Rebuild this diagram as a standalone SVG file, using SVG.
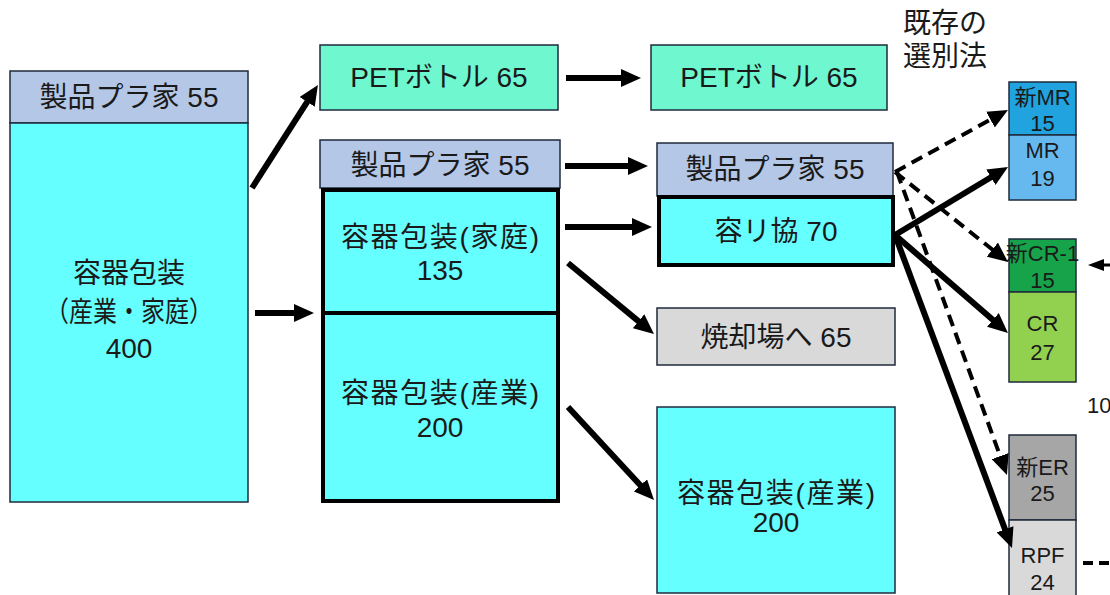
<svg xmlns="http://www.w3.org/2000/svg" width="1110" height="595" viewBox="0 0 1110 595">
<defs>
<style>
text{font-family:"Liberation Sans","Noto Sans CJK JP",sans-serif;fill:#1a1a1a;text-anchor:middle}
.t{font-size:28px}
.s{font-size:22px}
.box{stroke:#1f2a3c;stroke-width:1.5}
.thick{fill:none;stroke:#000;stroke-width:4}
.hdr{fill:#b4c7e7}
.aq{fill:#66ffff}
.pet{fill:#6ff7cf}
.sol{stroke:#000;stroke-width:6;fill:none;marker-end:url(#ah)}
.dsh{stroke:#000;stroke-width:4;fill:none;stroke-dasharray:12 7;marker-end:url(#ah)}
</style>
<marker id="ah" viewBox="0 0 20 18" markerUnits="userSpaceOnUse" markerWidth="20" markerHeight="18" refX="6" refY="9" orient="auto"><path d="M0,0 L20,9 L0,18 z" fill="#000"/></marker>
<marker id="ahs" viewBox="0 0 16 12" markerUnits="userSpaceOnUse" markerWidth="16" markerHeight="12" refX="5" refY="6" orient="auto"><path d="M0,0 L16,6 L0,12 z" fill="#000"/></marker>
</defs>
<rect width="1110" height="595" fill="#fff"/>

<g id="left-header"><rect class="box hdr" x="10" y="71" width="238" height="52"/><text class="t" x="129" y="107">製品プラ家 55</text></g>
<g id="left-main"><rect class="box aq" x="10" y="123" width="238" height="379"/>
<text class="t" x="129" y="283">容器包装</text>
<text class="t" x="129" y="322" textLength="168" lengthAdjust="spacingAndGlyphs">（産業・家庭）</text>
<text class="t" x="129" y="358">400</text></g>

<g id="pet1"><rect class="box pet" x="320" y="45" width="238" height="65"/><text class="t" x="439" y="87">PETボトル 65</text></g>
<g id="mid-header"><rect class="box hdr" x="320" y="140" width="240" height="48"/><text class="t" x="440" y="175">製品プラ家 55</text></g>
<g id="mid-katei"><rect class="aq" x="323" y="190" width="235" height="123"/><text class="t" x="440" y="247" textLength="198" lengthAdjust="spacing">容器包装(家庭)</text><text class="t" x="440" y="280">135</text></g>
<g id="mid-sangyo"><rect class="aq" x="323" y="313" width="235" height="188"/><text class="t" x="440" y="403" textLength="198" lengthAdjust="spacing">容器包装(産業)</text><text class="t" x="440" y="437">200</text></g>
<rect class="thick" x="323" y="190" width="235" height="311"/>
<line x1="321" y1="313" x2="560" y2="313" stroke="#000" stroke-width="4"/>

<g id="pet2"><rect class="box pet" x="651" y="45" width="236" height="65"/><text class="t" x="769" y="87">PETボトル 65</text></g>
<g id="right-header"><rect class="box hdr" x="657" y="143" width="236" height="53"/><text class="t" x="775" y="179">製品プラ家 55</text></g>
<g id="yorikyo"><rect class="aq" x="659" y="197" width="234" height="68" stroke="#000" stroke-width="4"/><text class="t" x="776" y="241">容リ協 70</text></g>
<g id="burn"><rect class="box" fill="#d9d9d9" x="657" y="308" width="238" height="57"/><text class="t" x="776" y="347">焼却場へ 65</text></g>
<g id="right-sangyo"><rect class="box aq" x="657" y="407" width="238" height="186"/><text class="t" x="776" y="503" textLength="198" lengthAdjust="spacing">容器包装(産業)</text><text class="t" x="776" y="532">200</text></g>

<g id="label-kizon"><text class="t" x="945" y="33">既存の</text><text class="t" x="945" y="66">選別法</text></g>

<g id="shin-mr"><rect class="box" fill="#20a3de" x="1009" y="82" width="67" height="53"/><text class="s" x="1042.5" y="105">新MR</text><text class="s" x="1042.5" y="131">15</text></g>
<g id="mr"><rect class="box" fill="#66b9ef" x="1009" y="135" width="67" height="65"/><text class="s" x="1042.5" y="158">MR</text><text class="s" x="1042.5" y="186">19</text></g>
<g id="shin-cr"><rect class="box" fill="#17a34a" x="1009" y="239" width="67" height="53"/><text class="s" x="1042.5" y="261">新CR-1</text><text class="s" x="1042.5" y="288">15</text></g>
<g id="cr"><rect class="box" fill="#92d050" x="1009" y="292" width="67" height="90"/><text class="s" x="1042.5" y="331">CR</text><text class="s" x="1042.5" y="360">27</text></g>
<g id="shin-er"><rect class="box" fill="#a6a6a6" x="1009" y="435" width="67" height="85"/><text class="s" x="1042.5" y="475">新ER</text><text class="s" x="1042.5" y="501">25</text></g>
<g id="rpf"><rect class="box" fill="#d9d9d9" x="1009" y="520" width="67" height="80"/><text class="s" x="1042.5" y="563">RPF</text><text class="s" x="1042.5" y="590">24</text></g>
<g id="label-10"><text class="s" x="1087" y="413" style="text-anchor:start">10</text></g>

<g id="connectors">
<line class="sol" x1="252" y1="188" x2="310.4" y2="96.8"/>
<line class="sol" x1="255" y1="313" x2="300" y2="313"/>
<line class="sol" x1="566" y1="78" x2="627" y2="78"/>
<line class="sol" x1="565" y1="166" x2="634" y2="166"/>
<line class="sol" x1="565" y1="227" x2="638" y2="227"/>
<line class="sol" x1="568" y1="263" x2="643.2" y2="325.1"/>
<line class="sol" x1="568" y1="407" x2="644.5" y2="489.7"/>
<line class="sol" x1="895" y1="235" x2="996" y2="174.2"/>
<line class="sol" x1="895" y1="235" x2="997.4" y2="323.8"/>
<line class="sol" x1="895" y1="235" x2="1007.1" y2="534.9"/>
<line class="dsh" x1="895" y1="172" x2="995.7" y2="116.7"/>
<line class="dsh" x1="895" y1="172" x2="997" y2="253.3"/>
<line class="dsh" x1="897" y1="172" x2="1002.2" y2="461.8"/>
<line x1="1112" y1="265" x2="1099" y2="265" stroke="#000" stroke-width="3" stroke-dasharray="8 5" marker-end="url(#ahs)"/>
<line x1="1083" y1="563" x2="1112" y2="563" stroke="#000" stroke-width="4" stroke-dasharray="10 6"/>
</g>
</svg>
